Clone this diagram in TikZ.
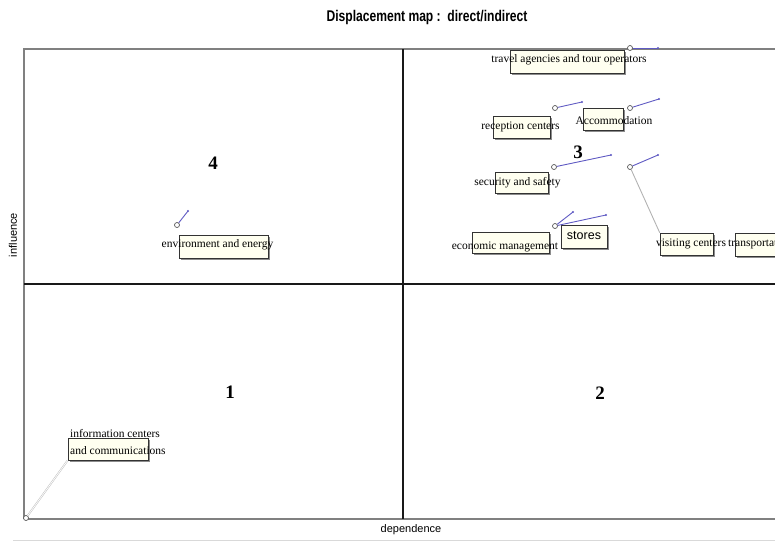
\documentclass[tikz,border=0pt]{standalone}
\usepackage{fontspec}
\setmainfont{Liberation Serif}
\setsansfont{Liberation Sans}
\newfontfamily\titlefont[FakeStretch=0.78]{Liberation Sans}
\usetikzlibrary{shadows}
\definecolor{linkblue}{RGB}{95,90,195}
\definecolor{boxcream}{RGB}{255,255,240}
\begin{document}
\begin{tikzpicture}[x=1pt,y=-1pt] % координаты в пикселях
\tikzstyle{mybox} = [draw=black!80, fill=boxcream, inner sep=0pt, line width=0.6pt,
  drop shadow={shadow xshift=1.6pt, shadow yshift=-1.6pt, fill=black!45, opacity=1}] % label box style
\tikzstyle{mylabel} = [inner sep=0pt, font=\fontsize{11.5}{13}\selectfont] % label text style
\tikzstyle{mypin} = [circle, draw=black!65, fill=white, line width=0.7pt, minimum width=5pt, inner sep=0pt] % point marker style
\tikzstyle{mytip} = [circle, fill=linkblue, minimum width=2.2pt, inner sep=0pt] % end of direction line
\tikzstyle{mylink} = [linkblue, line width=0.9pt] % direction line
\tikzstyle{mygray} = [draw=black!30, line width=0.9pt] % line to the label
\tikzstyle{quad} = [font=\fontsize{19}{20}\selectfont\bfseries] % quadrant numbers

\useasboundingbox (0,0) rectangle (775,542);

% рамка и оси
\draw[black!15, line width=0.6pt] (13,540) -- (775,540);
\draw[black!50, line width=1.8pt] (24,519) -- (24,49) -- (780,49);
\draw[black!50, line width=1.8pt] (24,519) -- (780,519);
\draw[black!90, line width=1.6pt] (403,49) -- (403,519);
\draw[black!90, line width=1.6pt] (24,284) -- (780,284);

\node (title) at (427,17) {\titlefont\bfseries\fontsize{15.5}{17}\selectfont Displacement map :\ \ direct/indirect};
\node[rotate=90, font=\sffamily\fontsize{11}{12}\selectfont] (yaxis) at (13,235) {influence};
\node[font=\sffamily\fontsize{11}{12}\selectfont] (xaxis) at (411,530) {dependence};

\node[quad] (q4) at (213,163) {4};
\node[quad] (q3) at (578,152) {3};
\node[quad] (q1) at (230,392) {1};
\node[quad] (q2) at (600,393) {2};

% рамки подписей
\node[mybox, minimum width=114pt, minimum height=23pt] (travelbox) at (567,61.5) {};
\node[mybox, minimum width=57pt, minimum height=22pt] (receptbox) at (521.5,127) {};
\node[mybox, minimum width=40pt, minimum height=22pt] (accombox) at (603,119) {};
\node[mybox, minimum width=53pt, minimum height=21pt] (securbox) at (521.5,182.5) {};
\node[mybox, minimum width=53pt, minimum height=22pt] (visitbox) at (686.5,244) {};
\node[mybox, minimum width=65pt, minimum height=23pt] (transbox) at (767.5,244.5) {};
\node[mybox, minimum width=77pt, minimum height=21pt] (econbox) at (510.5,242.5) {};
\node[mybox, minimum width=46pt, minimum height=23pt] (storebox) at (584,236.5) {};
\node[mybox, minimum width=89pt, minimum height=23pt] (envirbox) at (223.5,246.5) {};
\node[mybox, minimum width=80pt, minimum height=22pt] (infobox) at (108,449) {};

% подписи
\node[mylabel] (travel) at (569,60) {travel agencies and tour operators};
\node[mylabel] (recept) at (520.5,127) {reception centers};
\node[mylabel] (accom) at (614,121) {Accommodation};
\node[mylabel] (secur) at (517.5,183) {security and safety};
\node[mylabel] (visit) at (691,244) {visiting centers};
\node[mylabel, anchor=west] (trans) at (728,244) {transportation};
\node[mylabel] (econ) at (505,247) {economic management};
\node[inner sep=0pt, font=\sffamily\fontsize{12.5}{14}\selectfont] (store) at (584,236) {stores};
\node[mylabel] (envir) at (217.5,245) {environment and energy};
\node[mylabel, anchor=west, align=left] (info) at (70,441.5) {information centers\\[4pt]and communications};

% точки и направления
\node[mypin] (travelpin) at (630,48) {};
\coordinate (traveltip) at (658,48);
\node[mypin] (receptpin) at (555,108) {};
\coordinate (recepttip) at (582,102);
\node[mypin] (accompin) at (630,108) {};
\coordinate (accomtip) at (659,99);
\node[mypin] (securpin) at (554,167) {};
\coordinate (securtip) at (611,155);
\node[mypin] (visitpin) at (630,167) {};
\coordinate (visittip) at (658,155);
\node[mypin] (econpin) at (555,226) {};
\coordinate (econtip) at (573,212);
\coordinate (storetip) at (606,215);
\node[mypin] (envirpin) at (177,225) {};
\coordinate (envirtip) at (188,211);
\node[mypin] (infopin) at (26,518) {};

\draw[mygray] (visitpin) -- (visitbox.north west);
\draw[draw=black!25, double=white, double distance=0.7pt, line width=0.5pt] (infopin) -- (infobox.south west);

\draw[mylink] (travelpin) -- (traveltip);
\draw[mylink] (receptpin) -- (recepttip);
\draw[mylink] (accompin) -- (accomtip);
\draw[mylink] (securpin) -- (securtip);
\draw[mylink] (visitpin) -- (visittip);
\draw[mylink] (econpin) -- (econtip);
\draw[mylink] (econpin) -- (storetip);
\draw[mylink] (envirpin) -- (envirtip);

\foreach \t in {traveltip,recepttip,accomtip,securtip,visittip,econtip,storetip,envirtip}
  \node[mytip] at (\t) {};
\end{tikzpicture}
\end{document}
